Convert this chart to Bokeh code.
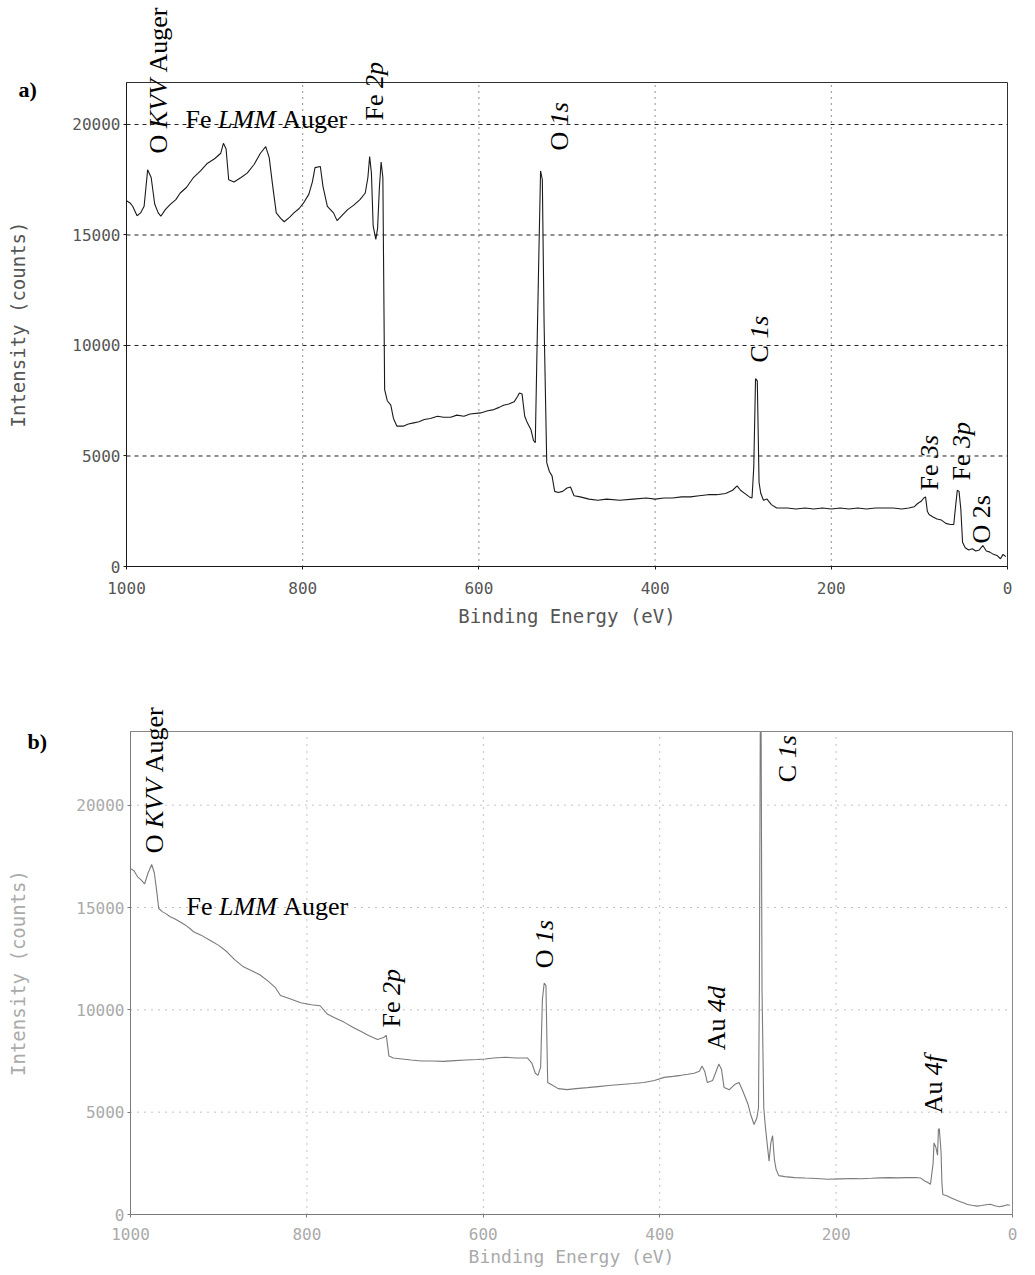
import math
from bokeh.plotting import figure
from bokeh.models import Range1d, Label, FixedTicker, BoxAnnotation
from bokeh.layouts import column
from bokeh.embed import file_html
from bokeh.resources import INLINE

# ---------------- data: panel a) ----------------
a_energy = [1000, 996, 993, 988, 984, 980, 976, 972, 968, 964, 961, 956, 950, 944, 939, 932, 924, 916, 908, 900,
            893, 890, 887, 884, 878, 870, 863, 855, 848, 842, 838, 834, 830, 825, 821, 815, 810, 804, 799, 793,
            789, 786, 780, 777, 772, 765, 761, 755, 749, 742, 735, 729, 726, 724, 722, 720, 717, 715, 713, 711,
            709, 707, 704, 700, 697, 693, 686, 680, 674, 668, 662, 655, 647, 640, 632, 625, 617, 610, 598, 590,
            583, 577, 572, 566, 560, 556, 554, 551, 548, 545, 541, 538, 536, 534, 532, 530, 528, 526, 523, 520,
            517, 514, 510, 505, 500, 496, 492, 485, 475, 465, 455, 440, 425, 410, 400, 390, 380, 370, 360, 350,
            340, 330, 320, 312, 307, 303, 298, 293, 290, 288, 286, 284, 282, 280, 277, 273, 268, 262, 250, 240,
            230, 220, 210, 200, 190, 180, 170, 160, 150, 140, 130, 120, 112, 106, 102, 98, 95, 93, 91, 89,
            85, 80, 75, 70, 65, 61, 59, 57, 55, 53, 51, 48, 44, 40, 36, 32, 28, 24, 20, 16,
            12, 8, 5, 2]
a_counts = [16550, 16450, 16300, 15870, 16000, 16300, 17950, 17600, 16400, 16000, 15850, 16150, 16400, 16600, 16900, 17150, 17600, 17900, 18250, 18450,
            18700, 19150, 18900, 17500, 17400, 17600, 17800, 18200, 18700, 19000, 18500, 17200, 16000, 15750, 15600, 15800, 16000, 16200, 16450, 16850,
            17400, 18050, 18100, 17200, 16300, 16000, 15650, 15900, 16150, 16350, 16600, 16900, 17600, 18550, 17800, 15400, 14800, 15300, 17100, 18300,
            17600, 8000, 7500, 7300, 6700, 6350, 6350, 6450, 6500, 6550, 6650, 6700, 6800, 6750, 6750, 6850, 6800, 6900, 6950, 7050,
            7100, 7200, 7300, 7350, 7450, 7700, 7850, 7800, 6800, 6500, 6200, 5700, 5600, 9900, 14000, 17900, 17500, 11000, 4700, 4300,
            4100, 3400, 3350, 3400, 3550, 3600, 3200, 3150, 3050, 3000, 3050, 3000, 3050, 3100, 3050, 3100, 3100, 3150, 3150, 3200,
            3250, 3250, 3300, 3450, 3650, 3450, 3300, 3150, 3100, 4500, 8500, 8400, 3800, 3300, 3000, 3050, 2800, 2650, 2650, 2600,
            2650, 2600, 2650, 2600, 2650, 2600, 2650, 2600, 2650, 2650, 2650, 2600, 2650, 2700, 2850, 2950, 3100, 3150, 2500, 2350,
            2250, 2150, 2100, 1950, 1900, 1900, 2700, 3450, 3400, 2600, 1100, 850, 750, 800, 700, 750, 950, 700, 650, 550,
            500, 350, 550, 450]

# ---------------- data: panel b) ----------------
b_energy = [1000, 996, 992, 988, 984, 980, 976, 973, 970, 968, 964, 960, 955, 950, 944, 938, 932, 928, 920, 910,
            900, 891, 882, 872, 862, 853, 844, 836, 830, 820, 807, 795, 785, 777, 768, 758, 748, 739, 730, 720,
            713, 710, 707, 702, 692, 682, 670, 658, 645, 632, 620, 607, 598, 588, 575, 562, 550, 545, 541, 538,
            535, 533, 531, 529, 527, 523, 515, 505, 495, 482, 470, 458, 444, 430, 418, 406, 395, 385, 376, 368,
            361, 355, 352, 349, 346, 340, 336, 333, 330, 327, 321, 315, 310, 305, 300, 297, 293, 290, 288, 287,
            286, 285, 284, 282, 280, 278, 276, 274, 272, 270, 268, 265, 258, 247, 235, 222, 210, 195, 180, 172,
            160, 150, 140, 130, 120, 110, 104, 100, 96, 93, 90, 89, 87, 85, 84, 83, 81, 80, 79, 74,
            70, 66, 60, 55, 51, 46, 40, 35, 30, 25, 20, 15, 10, 6, 3]
b_counts = [16900, 16800, 16500, 16350, 16150, 16700, 17100, 16700, 15700, 14950, 14800, 14700, 14550, 14450, 14300, 14150, 13950, 13800, 13650, 13400,
            13150, 12850, 12450, 12100, 11900, 11700, 11400, 11100, 10700, 10550, 10350, 10250, 10200, 9800, 9600, 9400, 9150, 8950, 8750, 8550,
            8650, 8750, 7750, 7650, 7600, 7550, 7500, 7500, 7480, 7520, 7550, 7570, 7600, 7650, 7680, 7650, 7650, 7400, 6900, 6800,
            7200, 10500, 11300, 11200, 6450, 6350, 6150, 6100, 6150, 6200, 6250, 6300, 6350, 6400, 6450, 6550, 6700, 6750, 6800, 6850,
            6900, 7000, 7250, 7000, 6450, 6550, 7000, 7350, 7100, 6200, 6100, 6350, 6450, 5950, 5400, 4900, 4400, 4700, 5200, 11000,
            23550, 23550, 11000, 5200, 4200, 3400, 2600, 3500, 3850, 2700, 2200, 1900, 1850, 1800, 1780, 1760, 1720, 1740, 1760, 1750,
            1770, 1790, 1800, 1790, 1800, 1810, 1780, 1650, 1560, 1480, 2500, 3500, 3300, 2900, 4150, 4200, 3050, 1500, 980, 900,
            820, 740, 640, 560, 490, 450, 410, 440, 480, 500, 430, 380, 420, 480, 450]

x_ticks = [0, 200, 400, 600, 800, 1000]
y_ticks = [0, 5000, 10000, 15000, 20000]
a_ymax = 21900
b_ymax = 23600

# peak annotations: (energy, counts, pieces [(text, italic)], angle)
a_labels = [
    (953.5, 18690, [("O", False), (" ", False), ("KVV", True), (" ", False), ("Auger", False)], 90),
    (933.0, 19820, [("Fe", False), (" ", False), ("LMM", True), (" ", False), ("Auger", False)], 0),
    (709.4, 20180, [("Fe", False), (" ", False), ("2p", True)], 90),
    (499.4, 18820, [("O", False), (" ", False), ("1s", True)], 90),
    (271.3, 9230, [("C", False), (" ", False), ("1s", True)], 90),
    (79.4, 3440, [("Fe", False), (" ", False), ("3s", True)], 90),
    (42.0, 3890, [("Fe", False), (" ", False), ("3p", True)], 90),
    (19.3, 1040, [("O", False), (" ", False), ("2s", False)], 90),
]
b_labels = [
    (962.6, 17650, [("O", False), (" ", False), ("KVV", True), (" ", False), ("Auger", False)], 90),
    (936.5, 14620, [("Fe", False), (" ", False), ("LMM", True), (" ", False), ("Auger", False)], 0),
    (695.0, 9140, [("Fe", False), (" ", False), ("2p", True)], 90),
    (521.5, 12030, [("O", False), (" ", False), ("1s", True)], 90),
    (325.4, 8020, [("Au", False), (" ", False), ("4d", True)], 90),
    (246.0, 21125, [("C", False), (" ", False), ("1s", True)], 90),
    (79.4, 4940, [("Au", False), (" ", False), ("4f", True)], 90),
]

W_REG = {"O": .722, " ": .25, "A": .722, "u": .5, "g": .5, "e": .444, "r": .333, "F": .556, "C": .667,
         "1": .5, "2": .5, "3": .5, "4": .5, "s": .389, "p": .5, "K": .722, "V": .722, "L": .611, "M": .889}
W_IT = {"K": .667, "V": .611, "L": .556, "M": .833, "s": .389, "p": .5, "d": .5, "f": .278,
        "1": .5, "2": .5, "3": .5, "4": .5, " ": .25}

SERIF = "Liberation Serif"
MONO = "DejaVu Sans Mono"
LIFT = 8.5  # shift of the text towards its own "up" direction, px


def add_text(p, x, y, pieces, size, angle_deg):
    off = 0.0
    rotated = angle_deg != 0
    for txt, it in pieces:
        if txt.strip():
            p.add_layout(Label(
                x=x, y=y, text=txt, angle=math.radians(angle_deg),
                x_offset=-LIFT if rotated else off,
                y_offset=off if rotated else LIFT,
                text_font=SERIF, text_font_size=f"{size}px",
                text_font_style="italic" if it else "normal",
                text_color="black", text_align="left", text_baseline="alphabetic"))
        table = W_IT if it else W_REG
        off += sum(table.get(c, 0.5) for c in txt) * size


def make_panel(energy, counts, labels, ymax, width, height, box_px, line_color,
               text_color, grid_color, hdash, vdash, tag, tag_xy, ylab_standoff,
               xtick_standoff, xlab_standoff, xtick_size, xlab_size):
    # box_px: canvas pixel positions of the plot box (left, right, top, bottom)
    bl, br, bt, bb = box_px
    sx = 1000.0 / (br - bl)
    sy = ymax / float(bb - bt)
    xr = Range1d(1000 + bl * sx, 0 - (width - br) * sx)
    yr = Range1d(0 - (height - bb) * sy, ymax + bt * sy)
    p = figure(width=width, height=height, x_range=xr, y_range=yr,
               output_backend="svg", toolbar_location=None,
               min_border_left=0, min_border_right=0, min_border_top=0, min_border_bottom=0)
    p.xgrid.visible = False
    p.ygrid.visible = False
    p.outline_line_color = None

    # grid lines limited to the plot box
    p.segment(x0=[1000] * (len(y_ticks) - 1), x1=[0] * (len(y_ticks) - 1),
              y0=y_ticks[1:], y1=y_ticks[1:], line_color=grid_color, line_dash=hdash, line_width=1)
    p.segment(x0=x_ticks[1:-1], x1=x_ticks[1:-1], y0=[0] * (len(x_ticks) - 2),
              y1=[ymax] * (len(x_ticks) - 2), line_color=grid_color, line_dash=vdash, line_width=1)
    p.add_layout(BoxAnnotation(left=1000, right=0, bottom=0, top=ymax, fill_alpha=0,
                               line_color=line_color, line_width=1, line_alpha=0.9))

    p.line(energy, counts, line_color=line_color, line_width=1.1)

    p.xaxis.ticker = FixedTicker(ticks=x_ticks)
    p.yaxis.ticker = FixedTicker(ticks=y_ticks)
    p.xaxis.fixed_location = 0
    p.yaxis.fixed_location = 1000
    p.xaxis.bounds = (0, 1000)
    p.yaxis.bounds = (0, ymax)
    for ax in (p.xaxis, p.yaxis):
        ax.axis_line_color = line_color
        ax.major_tick_line_color = line_color
        ax.major_tick_out = 3
        ax.major_tick_in = 0
        ax.minor_tick_line_color = None
        ax.major_label_text_font = MONO
        ax.major_label_text_color = text_color
        ax.axis_label_text_font = MONO
        ax.axis_label_text_color = text_color
        ax.axis_label_text_font_style = "normal"
    p.yaxis.major_label_text_font_size = "16px"
    p.yaxis.major_label_standoff = 3
    p.yaxis.axis_label = "Intensity (counts)"
    p.yaxis.axis_label_text_font_size = "19px"
    p.yaxis.axis_label_standoff = ylab_standoff
    p.xaxis.major_label_text_font_size = xtick_size
    p.xaxis.major_label_standoff = xtick_standoff
    p.xaxis.axis_label = "Binding Energy (eV)"
    p.xaxis.axis_label_text_font_size = xlab_size
    p.xaxis.axis_label_standoff = xlab_standoff
    p.background_fill_color = "white"
    p.border_fill_color = "white"

    for x, y, pieces, ang in labels:
        add_text(p, x, y, pieces, 26, ang)
    p.add_layout(Label(x=tag_xy[0], y=tag_xy[1], text=tag, text_font=SERIF, text_font_size="22px",
                       text_font_style="bold", text_color="black", text_baseline="alphabetic",
                       y_offset=LIFT))
    return p


pa = make_panel(a_energy, a_counts, a_labels, a_ymax, 1030, 636, (126, 1007, 82, 566),
                "#1a1a1a", "#555555", "#222222", "4 4", "1 5", "a)", (1122.6, 21177), 40,
                12, 8, "16px", "19px")
pb = make_panel(b_energy, b_counts, b_labels, b_ymax, 1030, 636, (130, 1012, 95, 578),
                "#7a7a7a", "#aaaaaa", "#888888", "1 6", "1 6", "b)", (1116.8, 22690), 44,
                10, 3, "16px", "18px")

layout = column(pa, pb)
open("out.html", "w").write(file_html(layout, INLINE))
